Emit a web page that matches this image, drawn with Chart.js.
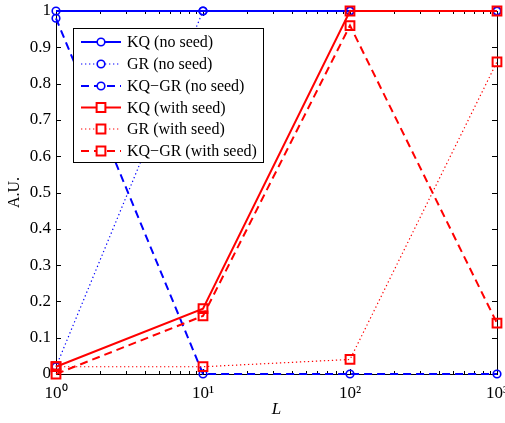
<!DOCTYPE html>
<html>
<head>
<meta charset="utf-8">
<script src="https://cdn.jsdelivr.net/npm/chart.js@4/dist/chart.umd.min.js"></script>
<style>
html,body{margin:0;padding:0;background:#fff;}
#wrap{width:505px;height:423px;position:relative;}
</style>
</head>
<body>
<div id="wrap"><canvas id="c" width="505" height="423"></canvas></div>
<script>
// ---- data ----
const L_values = [1, 10, 100, 1000];
const kqNoSeed = [1, 1, 1, 1];
const grNoSeed = [0.02, 1, 1, 1];
const kqgrNoSeed = [0.98, 0, 0, 0];
const kqWithSeed = [0.02, 0.18, 1, 1];
const grWithSeed = [0.02, 0.02, 0.04, 0.86];
const kqgrWithSeed = [0, 0.16, 0.96, 0.14];
const seriesNames = ['KQ (no seed)', 'GR (no seed)', 'KQ\u2212GR (no seed)', 'KQ (with seed)', 'GR (with seed)', 'KQ\u2212GR (with seed)'];
const xTickLabels = {1: '10\u2070', 10: '10\u00B9', 100: '10\u00B2', 1000: '10\u00B3'};
const yTicks = [0, 0.1, 0.2, 0.3, 0.4, 0.5, 0.6, 0.7, 0.8, 0.9, 1];

const BLUE = '#0000ff', RED = '#ff0000';
const SERIF = '"Liberation Serif", "Times New Roman", serif';

function pts(arr){ return L_values.map((x,i)=>({x:x, y:arr[i]})); }

const styles = [
  {c:BLUE, dash:[], w:2, ps:'circle', r:3.8, bw:1.6},
  {c:BLUE, dash:[1.3,2.7], w:1.2, ps:'circle', r:3.8, bw:1.6},
  {c:BLUE, dash:[8,5], w:2, ps:'circle', r:3.8, bw:1.6},
  {c:RED, dash:[], w:2, ps:'rect', r:6.2, bw:2},
  {c:RED, dash:[1.3,2.7], w:1.2, ps:'rect', r:6.2, bw:2},
  {c:RED, dash:[8,5], w:2, ps:'rect', r:6.2, bw:2}
];
const allSeries = [kqNoSeed, grNoSeed, kqgrNoSeed, kqWithSeed, grWithSeed, kqgrWithSeed];

const datasets = allSeries.map((s,i)=>({
  label: seriesNames[i],
  data: pts(s),
  borderColor: styles[i].c,
  borderWidth: styles[i].w,
  borderDash: styles[i].dash,
  pointStyle: styles[i].ps,
  pointRadius: styles[i].r,
  pointBorderWidth: styles[i].bw,
  pointBorderColor: styles[i].c,
  pointBackgroundColor: 'rgba(0,0,0,0)',
  tension: 0,
  fill: false,
  clip: false,
  order: 6 - i
}));

const frame = {
  id: 'frame',
  beforeDatasetsDraw(chart){
    const ctx = chart.ctx, a = chart.chartArea;
    const xs = chart.scales.x, ys = chart.scales.y;
    ctx.save();
    ctx.strokeStyle = '#000';
    ctx.lineWidth = 1;
    ctx.setLineDash([]);
    ctx.beginPath();
    for (let d = 1; d < 1000; d *= 10) {
      for (let k = 1; k <= 10; k++) {
        const v = d * k;
        if (v > 1000) break;
        const px = Math.round(xs.getPixelForValue(v)) + 0.5;
        const len = (k === 1 || k === 10) ? 5 : 3;
        ctx.moveTo(px, a.bottom); ctx.lineTo(px, a.bottom - len);
        ctx.moveTo(px, a.top); ctx.lineTo(px, a.top + len);
      }
    }
    yTicks.forEach(v=>{
      const py = Math.round(ys.getPixelForValue(v)) + 0.5;
      ctx.moveTo(a.left, py); ctx.lineTo(a.left + 5, py);
      ctx.moveTo(a.right, py); ctx.lineTo(a.right - 5, py);
    });
    ctx.stroke();
    ctx.strokeRect(Math.round(a.left)+0.5, Math.round(a.top)+0.5, Math.round(a.right - a.left), Math.round(a.bottom - a.top));
    ctx.restore();
  },
  afterDraw(chart){
    const ctx = chart.ctx;
    const bx = 73.5, by = 28.5, bw = 190, bh = 134;
    ctx.save();
    ctx.fillStyle = '#fff';
    ctx.fillRect(bx, by, bw, bh);
    ctx.strokeStyle = '#000';
    ctx.lineWidth = 1;
    ctx.setLineDash([]);
    ctx.strokeRect(bx, by, bw, bh);
    const rows = [42, 64, 86, 107.5, 129, 151];
    chart.data.datasets.forEach((ds,i)=>{
      const y = rows[i];
      ctx.strokeStyle = ds.borderColor;
      ctx.lineWidth = ds.borderWidth;
      ctx.setLineDash(ds.borderDash);
      ctx.beginPath();
      ctx.moveTo(81, y); ctx.lineTo(121, y);
      ctx.stroke();
      ctx.setLineDash([]);
      ctx.lineWidth = ds.pointBorderWidth;
      ctx.strokeStyle = ds.pointBorderColor;
      ctx.fillStyle = '#fff';
      Chart.helpers.drawPoint(ctx, {pointStyle: ds.pointStyle, radius: ds.pointRadius, rotation: 0, borderWidth: ds.pointBorderWidth}, 101, y);
      ctx.fillStyle = '#000';
      ctx.font = '16px ' + SERIF;
      ctx.textBaseline = 'middle';
      ctx.textAlign = 'left';
      ctx.fillText(ds.label, 127, y + 1);
    });
    ctx.restore();
  }
};

new Chart(document.getElementById('c'), {
  type: 'line',
  data: { datasets: datasets },
  options: {
    responsive: false,
    animation: false,
    events: [],
    layout: { autoPadding: false, padding: {top: 11, right: 8, left: 0, bottom: 0} },
    plugins: { legend: {display: false}, tooltip: {enabled: false} },
    scales: {
      x: {
        type: 'logarithmic',
        min: 1, max: 1000,
        grid: { display: false, drawTicks: false },
        border: { display: false },
        afterFit(s){ s.height = 49; s.paddingLeft = 0; s.paddingRight = 0; },
        ticks: {
          autoSkip: false, maxRotation: 0, minRotation: 0,
          padding: 9,
          color: '#000',
          font: { family: SERIF, size: 17 },
          callback: (v)=> xTickLabels[v] !== undefined ? xTickLabels[v] : ''
        },
        title: { display: true, text: 'L', color: '#000', padding: {top: 0, bottom: 3},
                 font: { family: SERIF, size: 17, style: 'italic' } }
      },
      y: {
        min: 0, max: 1,
        grid: { display: false, drawTicks: false },
        border: { display: false },
        afterFit(s){ s.width = 56; s.paddingTop = 0; s.paddingBottom = 0; },
        afterBuildTicks(s){ s.ticks = yTicks.map(v=>({value: v})); },
        ticks: {
          padding: 5,
          color: '#000',
          font: { family: SERIF, size: 17 },
          callback: (v)=> v === 0 ? '0' : (v === 1 ? '1' : v.toFixed(1))
        },
        title: { display: true, text: 'A.U.', color: '#000', padding: {top: 5, bottom: 0},
                 font: { family: SERIF, size: 16 } }
      }
    }
  },
  plugins: [frame]
});
</script>
</body>
</html>
